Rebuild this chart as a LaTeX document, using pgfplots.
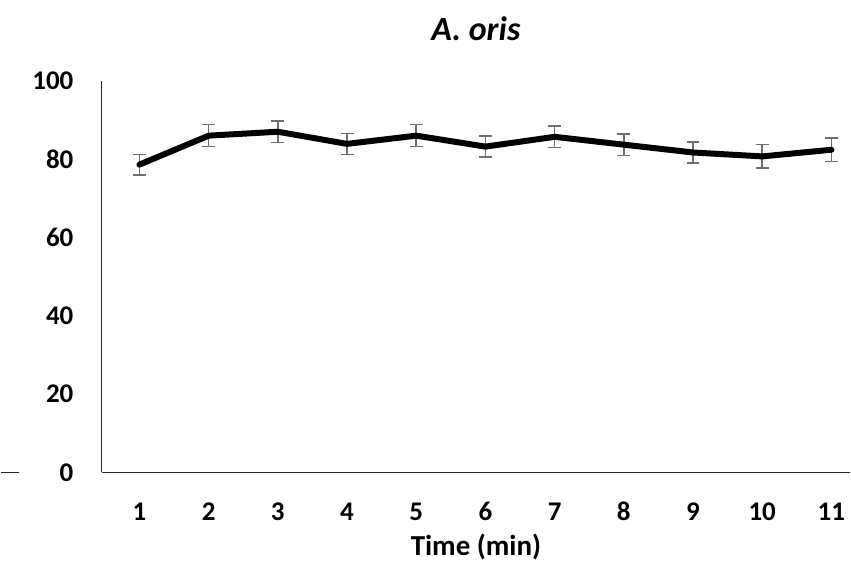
\documentclass[border=0pt]{standalone}
\usepackage{pgfplots}
\pgfplotsset{compat=1.18}
\usepackage{fontspec}
\setmainfont{Carlito}
\definecolor{ebar}{RGB}{110,110,110}
\begin{document}
\begin{tikzpicture}
\begin{axis}[
  scale only axis,
  width=750pt, height=392pt,
  xmin=0.452, xmax=11.274,
  ymin=0, ymax=100,
  axis x line=bottom, axis y line=left,
  axis line style={-, line width=1.3pt, black!85},
  xtick={1,2,3,4,5,6,7,8,9,10,11},
  ytick={0,20,40,60,80,100},
  major tick length=0pt,
  /pgf/number format/assume math mode=true,
  tick label style={font=\fontsize{27}{32}\selectfont\bfseries, inner sep=0pt},
  xticklabel style={anchor=base, yshift=-48pt},
  yticklabel style={anchor=east, xshift=-28pt},
  clip=false,
  title={\textbf{\textit{A. oris}}},
  title style={font=\fontsize{34}{40}\selectfont, at={(rel axis cs:0.5,1.117)}, anchor=center, inner sep=0pt},
  xlabel={\textbf{Time (min)}},
  xlabel style={font=\fontsize{29}{34}\selectfont, at={(rel axis cs:0.5,-0.191)}, anchor=center, inner sep=0pt},
]
\path (rel axis cs:-0.1347,-0.25) rectangle (rel axis cs:1,1.2066);
\draw[line width=1.3pt, black!85] (rel axis cs:-0.1347,0) -- (rel axis cs:-0.1107,0);
\addplot[draw=none, mark=none,
  error bars/.cd, y dir=both, y explicit,
  error bar style={ebar, line width=1.6pt},
  error mark options={rotate=90, mark size=6.5pt, ebar, line width=1.6pt}]
  table[x=x, y=y, y error=e] {
x y e
1 78.6 2.6
2 86.0 2.8
3 87.0 2.75
4 83.9 2.7
5 86.0 2.8
6 83.2 2.7
7 85.7 2.7
8 83.7 2.8
9 81.7 2.7
10 80.7 3.0
11 82.4 3.0
};
\addplot[black, line width=6pt, mark=none, line join=round, line cap=round]
  table[x=x, y=y] {
x y
1 78.6
2 86.0
3 87.0
4 83.9
5 86.0
6 83.2
7 85.7
8 83.7
9 81.7
10 80.7
11 82.4
};
\end{axis}
\end{tikzpicture}
\end{document}
